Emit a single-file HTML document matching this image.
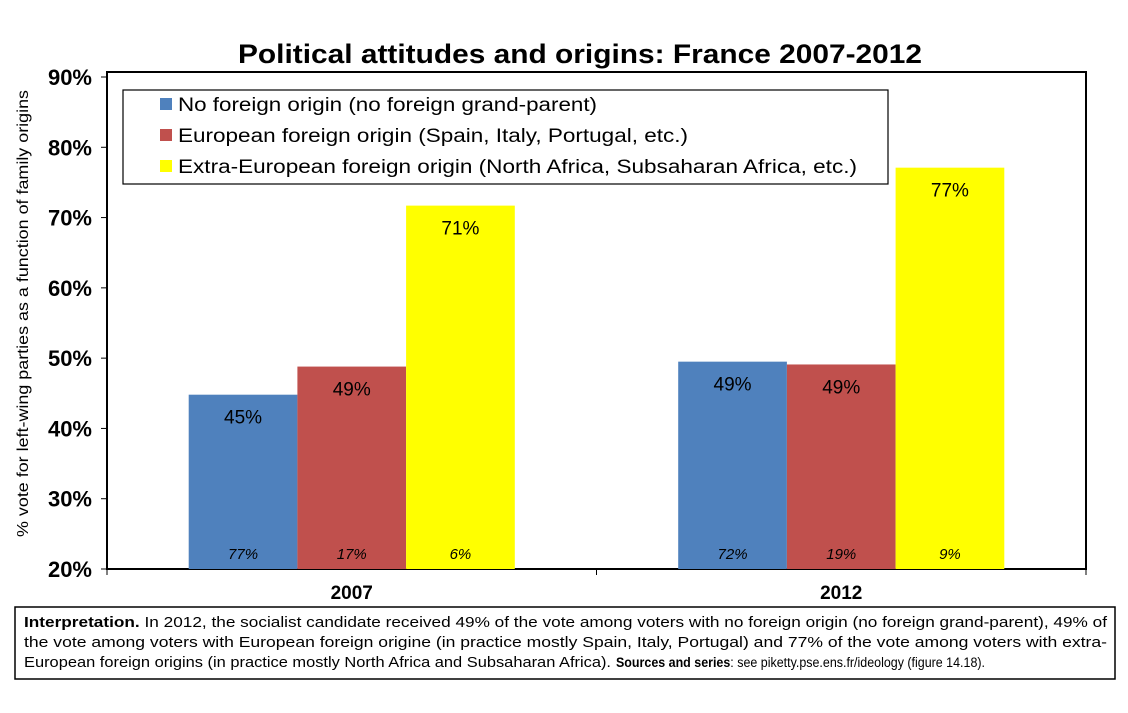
<!DOCTYPE html>
<html><head><meta charset="utf-8"><style>
body{margin:0;background:#fff;width:1128px;height:713px;overflow:hidden;font-family:"Liberation Sans",sans-serif}
</style></head><body>
<svg id="c" width="1128" height="713" style="position:absolute;left:0;top:0">
<text x="238" y="63" textLength="684" lengthAdjust="spacingAndGlyphs" font-size="27" font-weight="bold">Political attitudes and origins: France 2007-2012</text>
<rect x="107" y="72" width="979" height="497" fill="none" stroke="#000" stroke-width="2"/>
<g id="axes"></g><g id="bars"></g>
<text transform="translate(28,537) rotate(-90)" textLength="447" lengthAdjust="spacingAndGlyphs" font-size="15.5">% vote for left-wing parties as a function of family origins</text>
<g>
<rect x="123" y="90" width="765" height="94" fill="#fff" stroke="#000" stroke-width="1.2"/>
</g>
<g id="legend"></g>
<rect x="15" y="607" width="1100" height="72" fill="#fff" stroke="#000" stroke-width="1.5"/>
<g font-size="14.5">
<text x="24" y="627" textLength="1083" lengthAdjust="spacingAndGlyphs"><tspan font-weight="bold">Interpretation.</tspan> In 2012, the socialist candidate received 49% of the vote among voters with no foreign origin (no foreign grand-parent), 49% of</text>
<text x="24" y="647" textLength="1083" lengthAdjust="spacingAndGlyphs">the vote among voters with European foreign origine (in practice mostly Spain, Italy, Portugal) and 77% of the vote among voters with extra-</text>
<text x="24" y="667" textLength="587" lengthAdjust="spacingAndGlyphs">European foreign origins (in practice mostly North Africa and Subsaharan Africa).</text>
<text x="616" y="667" font-size="13.5" textLength="369" lengthAdjust="spacingAndGlyphs"><tspan font-weight="bold">Sources and series</tspan>: see piketty.pse.ens.fr/ideology (figure 14.18).</text>
</g>
</svg>
<script>
const categories=["2007","2012"];
const seriesNames=["No foreign origin (no foreign grand-parent)","European foreign origin (Spain, Italy, Portugal, etc.)","Extra-European foreign origin (North Africa, Subsaharan Africa, etc.)"];
const noForeign=[44.8,49.5];
const european=[48.8,49.1];
const extraEuropean=[71.7,77.1];
const valueLabels=[["45%","49%"],["49%","49%"],["71%","77%"]];
const shareLabels=[["77%","72%"],["17%","19%"],["6%","9%"]];
const yTicks=[20,30,40,50,60,70,80,90];
const colors=["#4f81bd","#c0504d","#ffff00"];
const legendLens=[419,510,679];
const ns="http://www.w3.org/2000/svg";
const X0=107,X1=1086,Y0=569,Y1=77;
const y=v=>Y0-(v-20)/(90-20)*(Y0-Y1);
const catW=(X1-X0)/categories.length;
function mk(t,a,p){const e=document.createElementNS(ns,t);for(const k in a)e.setAttribute(k,a[k]);p.appendChild(e);return e;}
const ax=document.getElementById('axes'),bg=document.getElementById('bars'),lg=document.getElementById('legend');
yTicks.forEach(t=>{
 const l=mk('line',{x1:X0-6,x2:X0,y1:y(t),y2:y(t),stroke:'#000'},ax);
 
 
 const tx=mk('text',{x:92,y:y(t)+8,'text-anchor':'end','font-size':22,'font-weight':'bold'},ax);tx.textContent=t+'%';
 
 
});
for(let i=0;i<=categories.length;i++){const l=mk('line',{x1:X0+i*catW,x2:X0+i*catW,y1:Y0,y2:Y0+6,stroke:'#000'},ax);
 
 }
const series=[noForeign,european,extraEuropean];
const bw=108.7;
categories.forEach((c,ci)=>{
 const cx=X0+catW*(ci+0.5);
 const t=mk('text',{x:cx,y:Y0+30,'text-anchor':'middle','font-size':19,'font-weight':'bold'},ax);t.textContent=c;
 
 
 series.forEach((s,si)=>{
  const bx=cx-1.5*bw+si*bw;
  const r=mk('rect',{x:bx,y:y(s[ci]),width:bw,height:Y0-y(s[ci]),fill:colors[si]},bg);
  
  
  const v=mk('text',{x:bx+bw/2,y:y(s[ci])+29,'text-anchor':'middle','font-size':19},bg);v.textContent=valueLabels[si][ci];
  
  
  const sh=mk('text',{x:bx+bw/2,y:Y0-10,'text-anchor':'middle','font-size':15,'font-style':'italic'},bg);sh.textContent=shareLabels[si][ci];
  
  
 });
});
seriesNames.forEach((n,i)=>{
 const yy=104+i*31;
 const r=mk('rect',{x:160,y:yy-6,width:12,height:12,fill:colors[i]},lg);
 
 
 const t=mk('text',{x:178,y:yy+7,'font-size':19,textLength:legendLens[i],lengthAdjust:'spacingAndGlyphs'},lg);t.textContent=n;
 
 
});
</script>
</body></html>
